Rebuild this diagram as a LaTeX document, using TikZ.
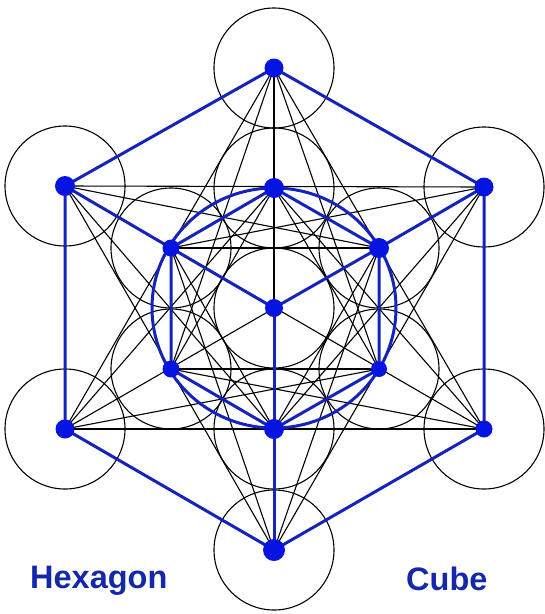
\documentclass[tikz,border=0pt]{standalone}
\usepackage{fontspec}
\setmainfont{Liberation Sans}
\pgfdeclarelayer{thin}
\pgfdeclarelayer{thick}
\pgfsetlayers{thin,thick,main}
\definecolor{hexblue}{RGB}{20,35,185}
\definecolor{dotblue}{RGB}{5,20,225}
\definecolor{textblue}{RGB}{20,40,170}
\tikzset{
  dotnode/.style={circle,fill=dotblue,inner sep=0pt,minimum size=#1},
  ring/.style={draw=black,line width=1.1pt},
  chord/.style={draw=black,line width=1.1pt},
  bluedge/.style={draw=hexblue,line width=3pt,line cap=round},
  caption/.style={text=textblue,font=\fontsize{32.5}{36}\selectfont\bfseries,inner sep=0pt,anchor=base west}
}
\begin{document}
\begin{tikzpicture}[x=1pt,y=-1pt]
\useasboundingbox (0,0) rectangle (545,614);
% centre
\node[dotnode=18pt] (n0) at (274,308) {};
% inner six
\node[dotnode=20pt] (n1) at (274,188) {};
\node[dotnode=20pt] (n2) at (379,248) {};
\node[dotnode=16pt] (n3) at (379,369) {};
\node[dotnode=20pt] (n4) at (274,429) {};
\node[dotnode=17pt] (n5) at (171,369) {};
\node[dotnode=17pt] (n6) at (171,248) {};
% outer six
\node[dotnode=19pt] (n7) at (274,68) {};
\node[dotnode=19pt] (n8) at (484,187) {};
\node[dotnode=17pt] (n9) at (484,429) {};
\node[dotnode=22pt] (n10) at (274,550) {};
\node[dotnode=19pt] (n11) at (65,429) {};
\node[dotnode=20pt] (n12) at (65,186) {};
\begin{pgfonlayer}{thin}
  \foreach \i in {0,...,12}{
    \path[ring] (n\i.center) circle[radius=60];
  }
  \foreach \a/\b in {7/10,12/9,11/8, 12/8,11/9, 6/2,5/3,
                     7/11,7/9,10/12,10/8,
                     8/6,12/2,9/5,11/3,
                     7/3,7/5,10/2,10/6,
                     9/1,11/1,8/4,12/4,
                     1/5,1/3,4/2,4/6}{
    \path[chord] (n\a.center) -- (n\b.center);
  }
\end{pgfonlayer}
\begin{pgfonlayer}{thick}
  \path[bluedge] (n0.center) ellipse[x radius=122,y radius=120];
  \path[bluedge] (n7.center) -- (n8.center) -- (n9.center) -- (n10.center) -- (n11.center) -- (n12.center) -- (n7.center);
  \path[bluedge] (n12.center) -- (n6.center) -- (n0.center);
  \path[bluedge] (n8.center) -- (n2.center) -- (n0.center);
  \path[bluedge] (n10.center) -- (n4.center) -- (n0.center);
  \path[bluedge] (n6.center) -- (n1.center) -- (n2.center) -- (n3.center) -- (n4.center) -- (n5.center) -- (n6.center);
\end{pgfonlayer}
\node[caption] (hex) at (30,588) {Hexagon};
\node[caption] (cube) at (406,590) {Cube};
\end{tikzpicture}
\end{document}
